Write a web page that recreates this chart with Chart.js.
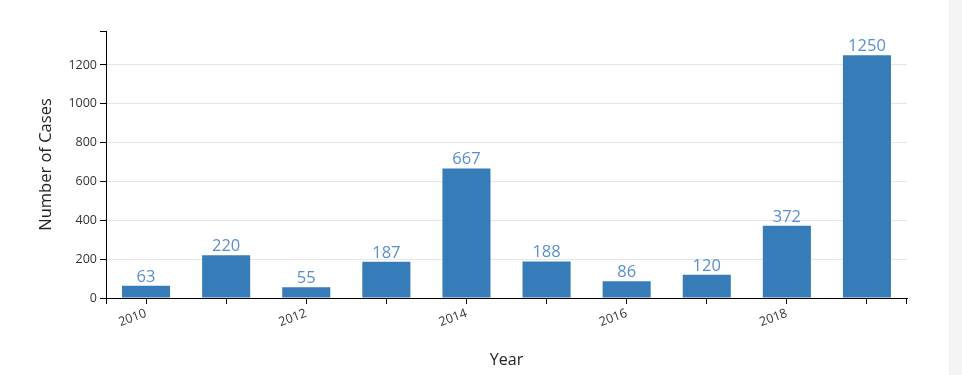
<!DOCTYPE html>
<html>
<head>
<meta charset="utf-8">
<script src="https://cdn.jsdelivr.net/npm/chart.js@4.4.1/dist/chart.umd.min.js"></script>
<style>
  html, body { margin: 0; padding: 0; background: #fff; }
  #wrap { position: relative; width: 962px; height: 375px; }
  #box { position: absolute; left: 0; top: 0; width: 949px; height: 375px; }
  #side { position: absolute; left: 949px; top: 0; width: 13px; height: 375px; background: #f4f4f4; }
</style>
</head>
<body>
<div id="wrap">
  <div id="box"><canvas id="casesChart" width="949" height="375"></canvas></div>
  <div id="side"></div>
</div>
<script>
const years = ["2010", "2011", "2012", "2013", "2014", "2015", "2016", "2017", "2018", "2019"];
const cases = [63, 220, 55, 187, 667, 188, 86, 120, 372, 1250];
const yTicks = [0, 200, 400, 600, 800, 1000, 1200];
const yMax = 1375;

const fontFamily = "'Open Sans', 'Noto Sans', sans-serif";

// value labels above each bar
const valueLabels = {
    id: "valueLabels",
    afterDatasetsDraw(chart) {
        const ctx = chart.ctx;
        const meta = chart.getDatasetMeta(0);
        ctx.save();
        ctx.font = "16.5px " + fontFamily;
        ctx.fillStyle = "#5a8fcb";
        ctx.textAlign = "center";
        ctx.textBaseline = "alphabetic";
        meta.data.forEach(function (bar, i) {
            ctx.fillText(cases[i], bar.x, bar.y - 4);
        });
        ctx.restore();
    }
};

// d3-style outer ticks at the axis ends
const outerTicks = {
    id: "outerTicks",
    afterDraw(chart) {
        const ctx = chart.ctx;
        const a = chart.chartArea;
        ctx.save();
        ctx.strokeStyle = "#000";
        ctx.lineWidth = 1;
        ctx.beginPath();
        ctx.moveTo(a.left - 6, a.top + 0.5);
        ctx.lineTo(a.left, a.top + 0.5);
        ctx.moveTo(a.left + 0.5, a.bottom);
        ctx.lineTo(a.left + 0.5, a.bottom + 6);
        ctx.moveTo(a.right - 0.5, a.bottom);
        ctx.lineTo(a.right - 0.5, a.bottom + 6);
        ctx.stroke();
        ctx.restore();
    }
};

new Chart(document.getElementById("casesChart").getContext("2d"), {
    type: "bar",
    data: {
        labels: years,
        datasets: [{
            label: "Number of Cases",
            data: cases,
            backgroundColor: "#357cb8",
            borderWidth: 0,
            categoryPercentage: 1,
            barPercentage: 0.6
        }]
    },
    options: {
        responsive: false,
        animation: false,
        layout: { padding: { top: 31, right: 42, left: 0, bottom: 0 } },
        plugins: {
            legend: { display: false },
            tooltip: { enabled: false }
        },
        scales: {
            x: {
                offset: true,
                afterFit: function (scale) { scale.height = 77; },
                grid: {
                    offset: false,
                    drawOnChartArea: false,
                    drawTicks: true,
                    tickLength: 6,
                    tickColor: "#000"
                },
                border: { display: true, color: "#000", width: 1 },
                ticks: {
                    autoSkip: false,
                    minRotation: 20,
                    maxRotation: 20,
                    padding: 2,
                    color: "#333",
                    font: { family: fontFamily, size: 12.5 },
                    callback: function (value, index) {
                        return index % 2 === 0 ? years[index] : "";
                    }
                },
                title: {
                    display: true,
                    text: "Year",
                    color: "#222",
                    font: { family: fontFamily, size: 16 },
                    padding: { top: 0, bottom: 5 }
                }
            },
            y: {
                min: 0,
                max: yMax,
                afterFit: function (scale) { scale.width = 106; },
                afterBuildTicks: function (scale) {
                    scale.ticks = yTicks.map(function (v) { return { value: v }; });
                },
                grid: {
                    color: "#e6e6e6",
                    tickColor: "#000",
                    tickLength: 6,
                    lineWidth: 1
                },
                border: { display: true, color: "#000", width: 1 },
                ticks: {
                    padding: 3,
                    color: "#333",
                    font: { family: fontFamily, size: 12.5 },
                    callback: function (value) { return String(value); }
                },
                title: {
                    display: true,
                    text: "Number of Cases",
                    color: "#222",
                    font: { family: fontFamily, size: 16.5 },
                    padding: { top: 36, bottom: 0 }
                }
            }
        }
    },
    plugins: [valueLabels, outerTicks]
});
</script>
</body>
</html>
